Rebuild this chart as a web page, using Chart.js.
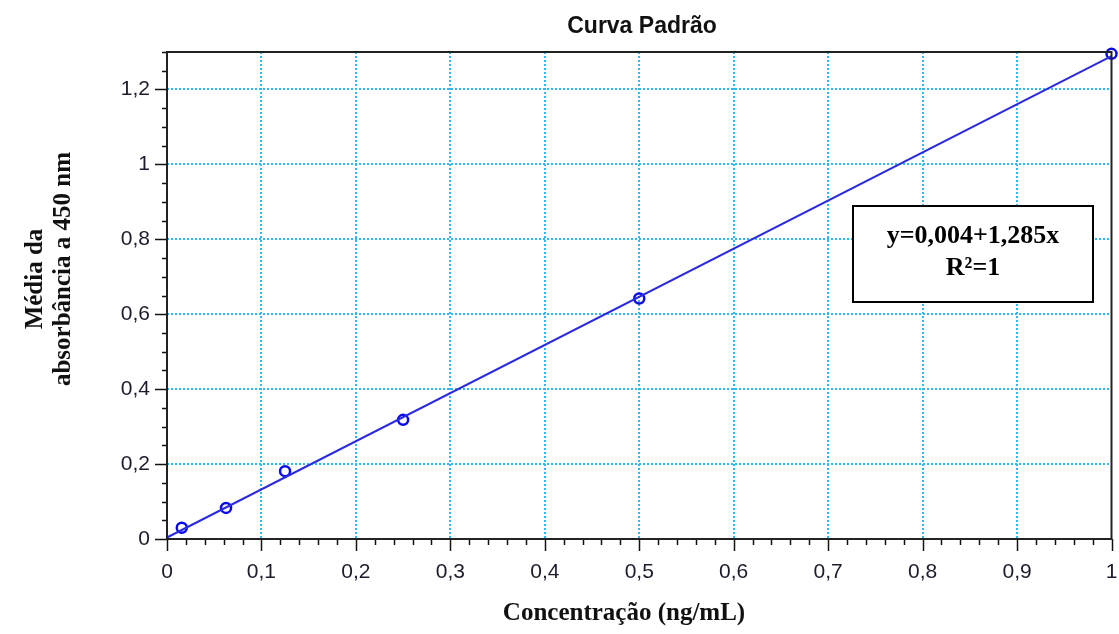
<!DOCTYPE html>
<html>
<head>
<meta charset="utf-8">
<script src="https://cdn.jsdelivr.net/npm/chart.js@4"></script>
<style>
  body { margin: 0; background: #fff; }
  #wrap { width: 1119px; height: 634px; position: relative; }
</style>
</head>
<body>
<div id="wrap"><canvas id="chart"></canvas></div>
<script>
// standard curve points
const concentration = [0.015625, 0.0625, 0.125, 0.25, 0.5, 1];
const absorbance = [0.03, 0.083, 0.181, 0.318, 0.642, 1.295];

// fitted line y = 0,004 + 1,285x, drawn from x=0 to x=1
const fit_x = [0, 1];
const fit_y = [0.004, 1.289];

const x_ticks = [0, 0.1, 0.2, 0.3, 0.4, 0.5, 0.6, 0.7, 0.8, 0.9, 1];
const y_ticks = [0, 0.2, 0.4, 0.6, 0.8, 1, 1.2];

const chart_title = "Curva Padrão";
const x_title = "Concentração (ng/mL)";
const y_title = ["Média da", "absorbância a 450 nm"];
const fit_text = ["y=0,004+1,285x", "R²=1"];

const ctx = document.getElementById("chart");

function comma(v){
    return String(Math.round(v * 100) / 100).replace(".", ",");
}

function grid_color(c){
    const s = c.scale;
    if (c.tick.value === s.min || c.tick.value === s.max) return "rgba(0,0,0,0)";
    return "#30b8f4";
}

// frame, tick marks, titles and the equation box
const decorations = {
    id: "decorations",
    afterDraw(chart){
        const g = chart.ctx;
        const a = chart.chartArea;
        const xs = chart.scales.x;
        const ys = chart.scales.y;
        g.save();

        g.strokeStyle = "#111";
        g.lineWidth = 1.5;
        for (let i = 0; i <= 50; i++){
            const px = Math.round(xs.getPixelForValue(i * 0.02)) + 0.5;
            const len = (i % 5 === 0) ? 12 : 6;
            g.beginPath();
            g.moveTo(px, a.bottom);
            g.lineTo(px, a.bottom + len);
            g.stroke();
        }
        for (let i = 0; i <= 26; i++){
            const py = Math.round(ys.getPixelForValue(i * 0.05)) + 0.5;
            const len = (i % 4 === 0) ? 12 : 5;
            g.beginPath();
            g.moveTo(a.left, py);
            g.lineTo(a.left - len, py);
            g.stroke();
        }

        g.lineWidth = 2;
        g.strokeStyle = "#222";
        g.strokeRect(a.left, a.top, a.right - a.left, a.bottom - a.top);

        g.fillStyle = "#111";
        g.textAlign = "center";
        g.textBaseline = "middle";
        g.font = "bold 23px 'Liberation Sans', Arial, sans-serif";
        g.fillText(chart_title, 642, 27);

        g.font = "bold 25px 'Liberation Serif', 'Times New Roman', serif";
        g.fillText(x_title, 624, 614);

        g.save();
        g.translate(42, 279);
        g.rotate(-Math.PI / 2);
        g.textBaseline = "alphabetic";
        g.fillText(y_title[0], 0, 0);
        g.restore();
        g.save();
        g.translate(70, 269);
        g.rotate(-Math.PI / 2);
        g.textBaseline = "alphabetic";
        g.fillText(y_title[1], 0, 0);
        g.restore();

        g.fillStyle = "#fff";
        g.fillRect(853, 206, 240, 96);
        g.strokeStyle = "#000";
        g.lineWidth = 2;
        g.strokeRect(853, 206, 240, 96);
        g.fillStyle = "#000";
        g.font = "bold 26px 'Liberation Serif', 'Times New Roman', serif";
        g.fillText(fit_text[0], 973, 236);
        g.fillText(fit_text[1], 973, 268);

        g.restore();
    }
};

let chart = new Chart(ctx, {
    type: "scatter",
    data: {
        datasets: [
            {
                label: "Ajuste",
                data: fit_x.map((x, i) => ({x: x, y: fit_y[i]})),
                showLine: true,
                borderColor: "#2a2ae0",
                borderWidth: 2,
                pointRadius: 0,
                clip: false
            },
            {
                label: "Padrões",
                data: concentration.map((x, i) => ({x: x, y: absorbance[i]})),
                pointStyle: "circle",
                pointRadius: 5,
                borderWidth: 2.5,
                borderColor: "#0a0ae8",
                backgroundColor: "rgba(0,0,0,0)",
                clip: false
            }
        ]
    },
    options: {
        responsive: true,
        maintainAspectRatio: false,
        animation: false,
        layout: {
            padding: {left: 0, top: 52, right: 5, bottom: 0}
        },
        scales: {
            x: {
                type: "linear",
                min: 0,
                max: 1,
                afterBuildTicks: s => { s.ticks = x_ticks.map(v => ({value: v})); },
                afterFit: s => {
                    s.height = 95;
                    s.paddingLeft = 0;
                    s.paddingRight = 0;
                },
                border: {display: false, dash: [2, 2]},
                grid: {
                    color: grid_color,
                    lineWidth: 2,
                    drawTicks: false
                },
                ticks: {
                    autoSkip: false,
                    maxRotation: 0,
                    padding: 21,
                    color: "#1c1c2c",
                    font: {family: "'Liberation Sans', Arial, sans-serif", size: 21},
                    callback: v => comma(v)
                }
            },
            y: {
                type: "linear",
                min: 0,
                max: 1.3,
                afterBuildTicks: s => { s.ticks = y_ticks.map(v => ({value: v})); },
                afterFit: s => {
                    s.width = 167;
                    s.paddingTop = 0;
                    s.paddingBottom = 0;
                },
                border: {display: false, dash: [2, 2]},
                grid: {
                    color: grid_color,
                    lineWidth: 2,
                    drawTicks: false
                },
                ticks: {
                    autoSkip: false,
                    padding: 17,
                    color: "#1c1c2c",
                    font: {family: "'Liberation Sans', Arial, sans-serif", size: 21},
                    callback: v => comma(v)
                }
            }
        },
        plugins: {
            legend: {display: false},
            tooltip: {enabled: false},
            title: {display: false}
        }
    },
    plugins: [decorations]
});
</script>
</body>
</html>
